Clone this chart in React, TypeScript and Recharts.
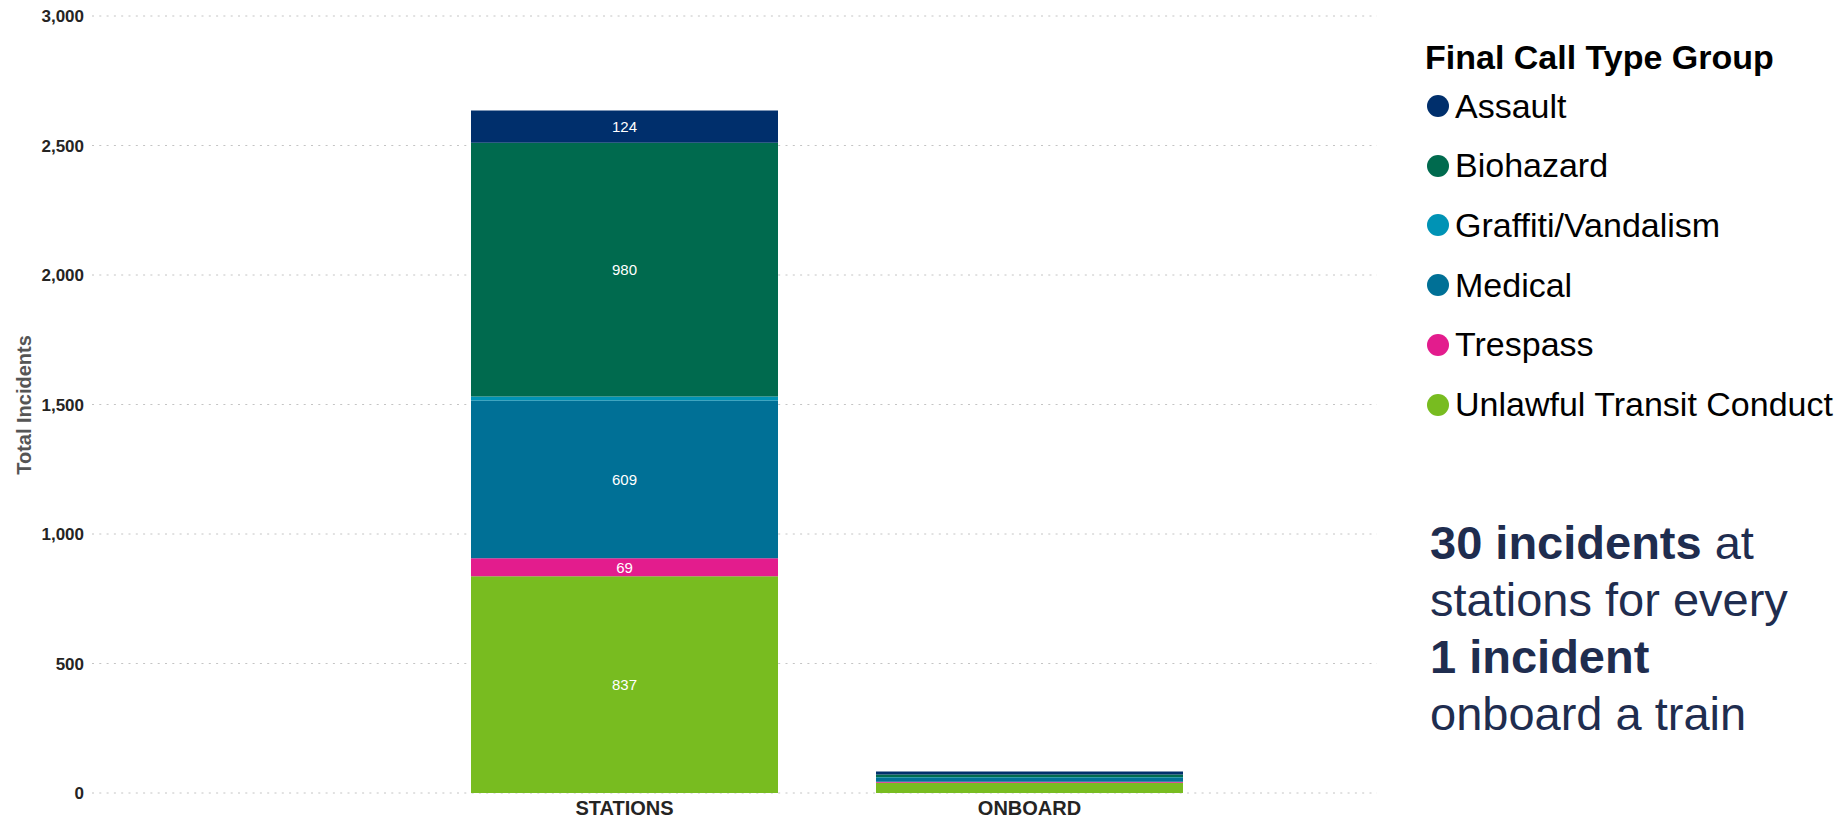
import { BarChart, Bar, XAxis, YAxis, CartesianGrid, LabelList } from 'recharts';

const categories = ['STATIONS', 'ONBOARD'];
const groupNames = ['Assault', 'Biohazard', 'Graffiti/Vandalism', 'Medical', 'Trespass', 'Unlawful Transit Conduct'];
const groupKeys = ['assault', 'biohazard', 'graffiti', 'medical', 'trespass', 'unlawful'];
const assault = [124, 12];
const biohazard = [980, 10];
const graffiti = [16, 3];
const medical = [609, 15];
const trespass = [69, 3];
const unlawful = [837, 40];
const yTicks = [0, 500, 1000, 1500, 2000, 2500, 3000];

const colors: Record<string, string> = {
  assault: '#002f6c',
  biohazard: '#006a4e',
  graffiti: '#0093b5',
  medical: '#007096',
  trespass: '#e31c8d',
  unlawful: '#78bc20',
};

const data = categories.map((name, i) => ({
  name,
  assault: assault[i],
  biohazard: biohazard[i],
  graffiti: graffiti[i],
  medical: medical[i],
  trespass: trespass[i],
  unlawful: unlawful[i],
}));

// bottom of the stack first
const stackOrder = ['unlawful', 'trespass', 'medical', 'graffiti', 'biohazard', 'assault'];

const font = '"Liberation Sans", Arial, sans-serif';

const renderLabel = (props: any) => {
  const { x, y, width, height, value } = props;
  if (height < 14) return null;
  return (
    <text
      x={x + width / 2}
      y={y + height / 2}
      fill="#ffffff"
      fontSize={15}
      fontFamily={font}
      textAnchor="middle"
      dominantBaseline="central"
    >
      {value}
    </text>
  );
};

const App = () => {
  return (
    <div style={{ position: 'absolute', left: 0, top: 0, width: 1839, height: 823, background: '#fff', fontFamily: font }}>
      <BarChart width={1382} height={823} data={data} margin={{ top: 16, right: 5, bottom: 0, left: 0 }}>
        <CartesianGrid vertical={false} stroke="#c4c4c4" strokeDasharray="2 5.3" />
        <XAxis
          dataKey="name"
          axisLine={false}
          tickLine={false}
          tickSize={0}
          tickMargin={8}
          height={30}
          padding={{ left: 330, right: 145 }}
          tick={{ fontSize: 20, fontWeight: 700, fill: '#252423', fontFamily: font }}
        />
        <YAxis
          width={92}
          domain={[0, 3000]}
          ticks={yTicks}
          axisLine={false}
          tickLine={false}
          tickSize={0}
          tickMargin={8}
          tickFormatter={(v: number) => v.toLocaleString('en-US')}
          tick={{ fontSize: 17, fontWeight: 700, fill: '#252423', fontFamily: font }}
          label={{
            content: () => (
              <text
                x={24}
                y={405}
                transform="rotate(-90 24 405)"
                textAnchor="middle"
                dominantBaseline="central"
                fontSize={20}
                fontWeight={700}
                fill="#555555"
                fontFamily={font}
              >
                Total Incidents
              </text>
            ),
          }}
        />
        {stackOrder.map((key) => (
          <Bar
            key={key}
            dataKey={key}
            name={groupNames[groupKeys.indexOf(key)]}
            stackId="a"
            fill={colors[key]}
            barSize={307}
            isAnimationActive={false}
          >
            <LabelList dataKey={key} content={renderLabel} />
          </Bar>
        ))}
      </BarChart>

      <div style={{ position: 'absolute', left: 1425, top: 36, fontSize: 34, fontWeight: 700, color: '#000', lineHeight: '42px', whiteSpace: 'nowrap' }}>
        Final Call Type Group
      </div>
      {groupKeys.map((key, i) => (
        <div
          key={key}
          style={{
            position: 'absolute',
            left: 1427,
            top: 106 + i * 59.7 - 21,
            height: 42,
            display: 'flex',
            alignItems: 'center',
            fontSize: 34,
            color: '#000',
            whiteSpace: 'nowrap',
          }}
        >
          <span style={{ width: 22, height: 22, borderRadius: '50%', background: colors[key], marginRight: 6, display: 'inline-block' }} />
          {groupNames[i]}
        </div>
      ))}

      <div style={{ position: 'absolute', left: 1430, top: 514, fontSize: 47, lineHeight: '57px', color: '#1f2d4f', whiteSpace: 'nowrap' }}>
        <b>30 incidents</b> at
        <br />
        stations for every
        <br />
        <b>1 incident</b>
        <br />
        onboard a train
      </div>
    </div>
  );
};

export default App;
